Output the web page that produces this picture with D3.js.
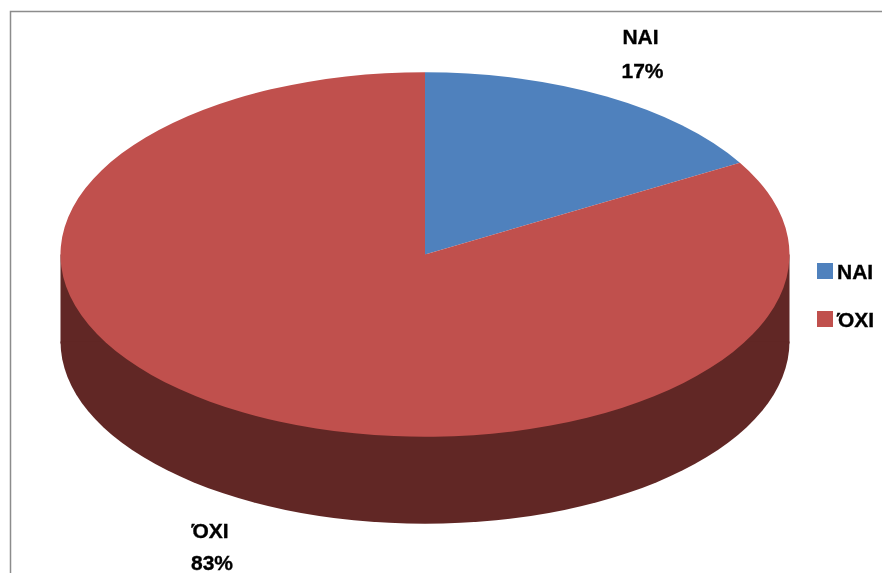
<!DOCTYPE html>
<html><head><meta charset="utf-8">
<script src="https://cdn.jsdelivr.net/npm/d3@7/dist/d3.min.js"></script>
<style>html,body{margin:0;padding:0;background:#fff}svg{display:block}text{font-family:"Liberation Sans",Arial,sans-serif;font-weight:bold;fill:#000;stroke:#000;stroke-width:.35;filter:url(#soft)}</style>
</head><body><svg id="c" width="882" height="573"></svg>
<script>
const categories = ["ΝΑΙ", "ΌΧΙ"];
const seriesValues = [16.6, 83.4];
const percentLabels = ["17%", "83%"];
const colors = ["#4f81bd", "#c0504d"];
const sideColor = "#612725";

const svg = d3.select("#c");
const defs = svg.append("defs");
defs.append("filter").attr("id","soft").append("feGaussianBlur").attr("stdDeviation",0.6);

svg.append("path").attr("d","M10.5,573V11.5H882").attr("fill","none").attr("stroke","#8c8c8c").attr("stroke-width",1.5);

const cx=425, cy=254.5, rx=364.5, squash=0.5, depth=87;
const pie=d3.pie().sort(null).value(d=>d);
const arcs=pie(seriesValues);
const arc=d3.arc().innerRadius(0).outerRadius(rx);
const side=d3.arc().innerRadius(0).outerRadius(rx).startAngle(Math.PI/2).endAngle(Math.PI*1.5);

// extruded side: lower half-ellipse plus connecting band (overlapping to avoid a seam)
const g=svg.append("g").attr("transform",`translate(${cx},${cy})`);
g.append("rect").attr("x",-rx).attr("y",0).attr("width",2*rx).attr("height",depth+2).attr("fill",sideColor);
g.append("path").attr("d",side()).attr("fill",sideColor).attr("transform",`translate(0,${depth}) scale(1,${squash})`);

const topFace=g.append("g").attr("transform",`scale(1,${squash})`);
topFace.selectAll("path").data(arcs).join("path").attr("d",arc).attr("fill",(d,i)=>colors[i]);

// data labels
const labelPos=[[640.5,44,78],[210,538,570]];
categories.forEach((c,i)=>{
  svg.append("text").attr("x",labelPos[i][0]).attr("y",labelPos[i][1]).attr("text-anchor","middle").attr("font-size",21).text(c);
  svg.append("text").attr("x",labelPos[i][0]+2).attr("y",labelPos[i][2]).attr("text-anchor","middle").attr("font-size",21).text(percentLabels[i]);
});

// legend
const legendY=d3.scalePoint().domain(categories).range([271,319]);
categories.forEach((c,i)=>{
  svg.append("rect").attr("x",817).attr("y",legendY(c)-8).attr("width",16).attr("height",16).attr("fill",colors[i]);
  svg.append("text").attr("x",837).attr("y",legendY(c)+8).attr("font-size",21).text(c);
});
</script></body></html>
